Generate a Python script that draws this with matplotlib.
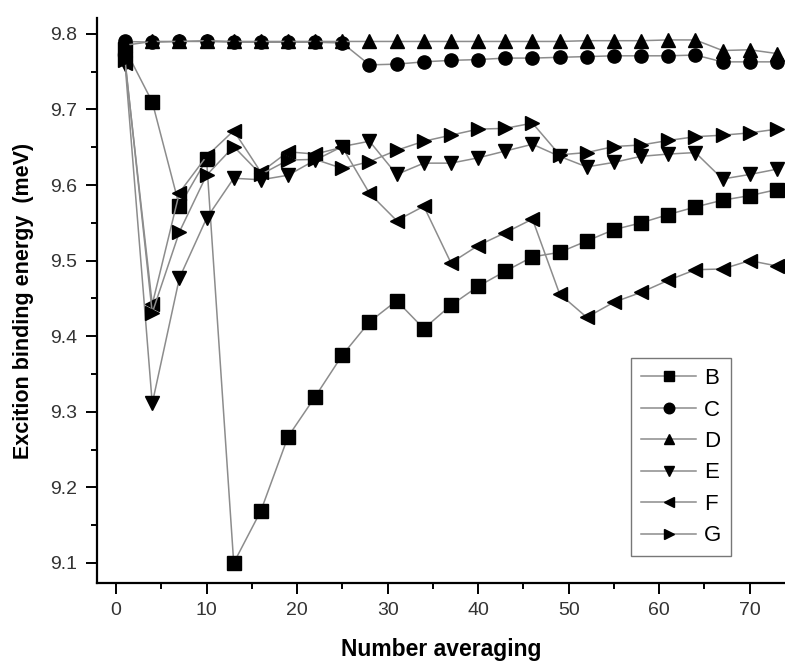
import numpy as np
import matplotlib.pyplot as plt
from matplotlib.ticker import MultipleLocator

# number of averaged samples
x = [1, 4, 7, 10, 13, 16, 19, 22, 25, 28, 31, 34, 37, 40, 43, 46, 49,
     52, 55, 58, 61, 64, 67, 70, 73]

B = [9.780, 9.710, 9.572, 9.634, 9.100, 9.169, 9.267, 9.320, 9.375, 9.419,
     9.447, 9.410, 9.441, 9.466, 9.486, 9.505, 9.511, 9.526, 9.541, 9.550,
     9.561, 9.571, 9.580, 9.586, 9.594]
C = [9.790, 9.789, 9.790, 9.790, 9.789, 9.789, 9.789, 9.789, 9.788, 9.759,
     9.760, 9.763, 9.765, 9.766, 9.768, 9.768, 9.769, 9.770, 9.771, 9.771,
     9.771, 9.772, 9.763, 9.763, 9.763]
D = [9.785, 9.790, 9.790, 9.791, 9.790, 9.790, 9.790, 9.790, 9.790, 9.790,
     9.790, 9.790, 9.790, 9.790, 9.790, 9.790, 9.790, 9.791, 9.791, 9.791,
     9.792, 9.792, 9.778, 9.779, 9.774]
E = [9.760, 9.311, 9.477, 9.556, 9.609, 9.607, 9.613, 9.633, 9.651, 9.658,
     9.614, 9.629, 9.629, 9.636, 9.645, 9.654, 9.638, 9.624, 9.630, 9.638,
     9.641, 9.643, 9.608, 9.614, 9.621]
F = [9.762, 9.442, 9.590, 9.638, 9.672, 9.617, 9.644, 9.641, 9.650, 9.589,
     9.553, 9.572, 9.497, 9.520, 9.537, 9.555, 9.456, 9.425, 9.445, 9.458,
     9.474, 9.488, 9.489, 9.500, 9.493]
G = [9.765, 9.431, 9.538, 9.613, 9.651, 9.614, 9.633, 9.634, 9.622, 9.631,
     9.646, 9.658, 9.666, 9.674, 9.675, 9.682, 9.640, 9.643, 9.651, 9.653,
     9.659, 9.664, 9.666, 9.669, 9.674]

series = [('B', B, 's'), ('C', C, 'o'), ('D', D, '^'),
          ('E', E, 'v'), ('F', F, '<'), ('G', G, '>')]

plt.rcParams['font.family'] = ['Liberation Sans', 'DejaVu Sans']

fig = plt.figure(figsize=(7.85, 6.65), dpi=100)
ax = fig.add_axes([0.1236, 0.1233, 0.8764, 0.8496])

for name, vals, mk in series:
    ax.plot(x, vals, color='#8c8c8c', lw=1.1, marker=mk, markersize=9.5,
            markerfacecolor='black', markeredgecolor='black', label=name)

ax.set_xlim(-2.1, 73.9)
ax.set_ylim(9.0735, 9.821)

ax.xaxis.set_major_locator(MultipleLocator(10))
ax.xaxis.set_minor_locator(MultipleLocator(5))
ax.yaxis.set_major_locator(MultipleLocator(0.1))
ax.yaxis.set_minor_locator(MultipleLocator(0.05))
ax.yaxis.set_major_formatter(plt.FormatStrFormatter('%.1f'))

ax.spines['top'].set_visible(False)
ax.spines['right'].set_visible(False)
for s in ('left', 'bottom'):
    ax.spines[s].set_linewidth(1.6)

ax.tick_params(which='major', direction='out', length=8, width=1.4,
               labelsize=14, labelcolor='#333333', pad=6)
ax.tick_params(which='minor', direction='out', length=4, width=1.4)

ax.set_xlabel('Number averaging', fontsize=16.5, fontweight='bold', labelpad=13)
ax.set_ylabel('Excition binding energy  (meV)', fontsize=15.5,
              fontweight='bold', labelpad=12)

leg = ax.legend(loc='upper left', bbox_to_anchor=(0.776, 0.398),
                borderaxespad=0, fontsize=16, handlelength=2.5,
                markerscale=0.8, fancybox=False, edgecolor='#777777',
                framealpha=1, borderpad=0.45, labelspacing=0.47,
                handletextpad=0.35)
leg.get_frame().set_linewidth(1.0)

fig.savefig('out.png', dpi=100)
